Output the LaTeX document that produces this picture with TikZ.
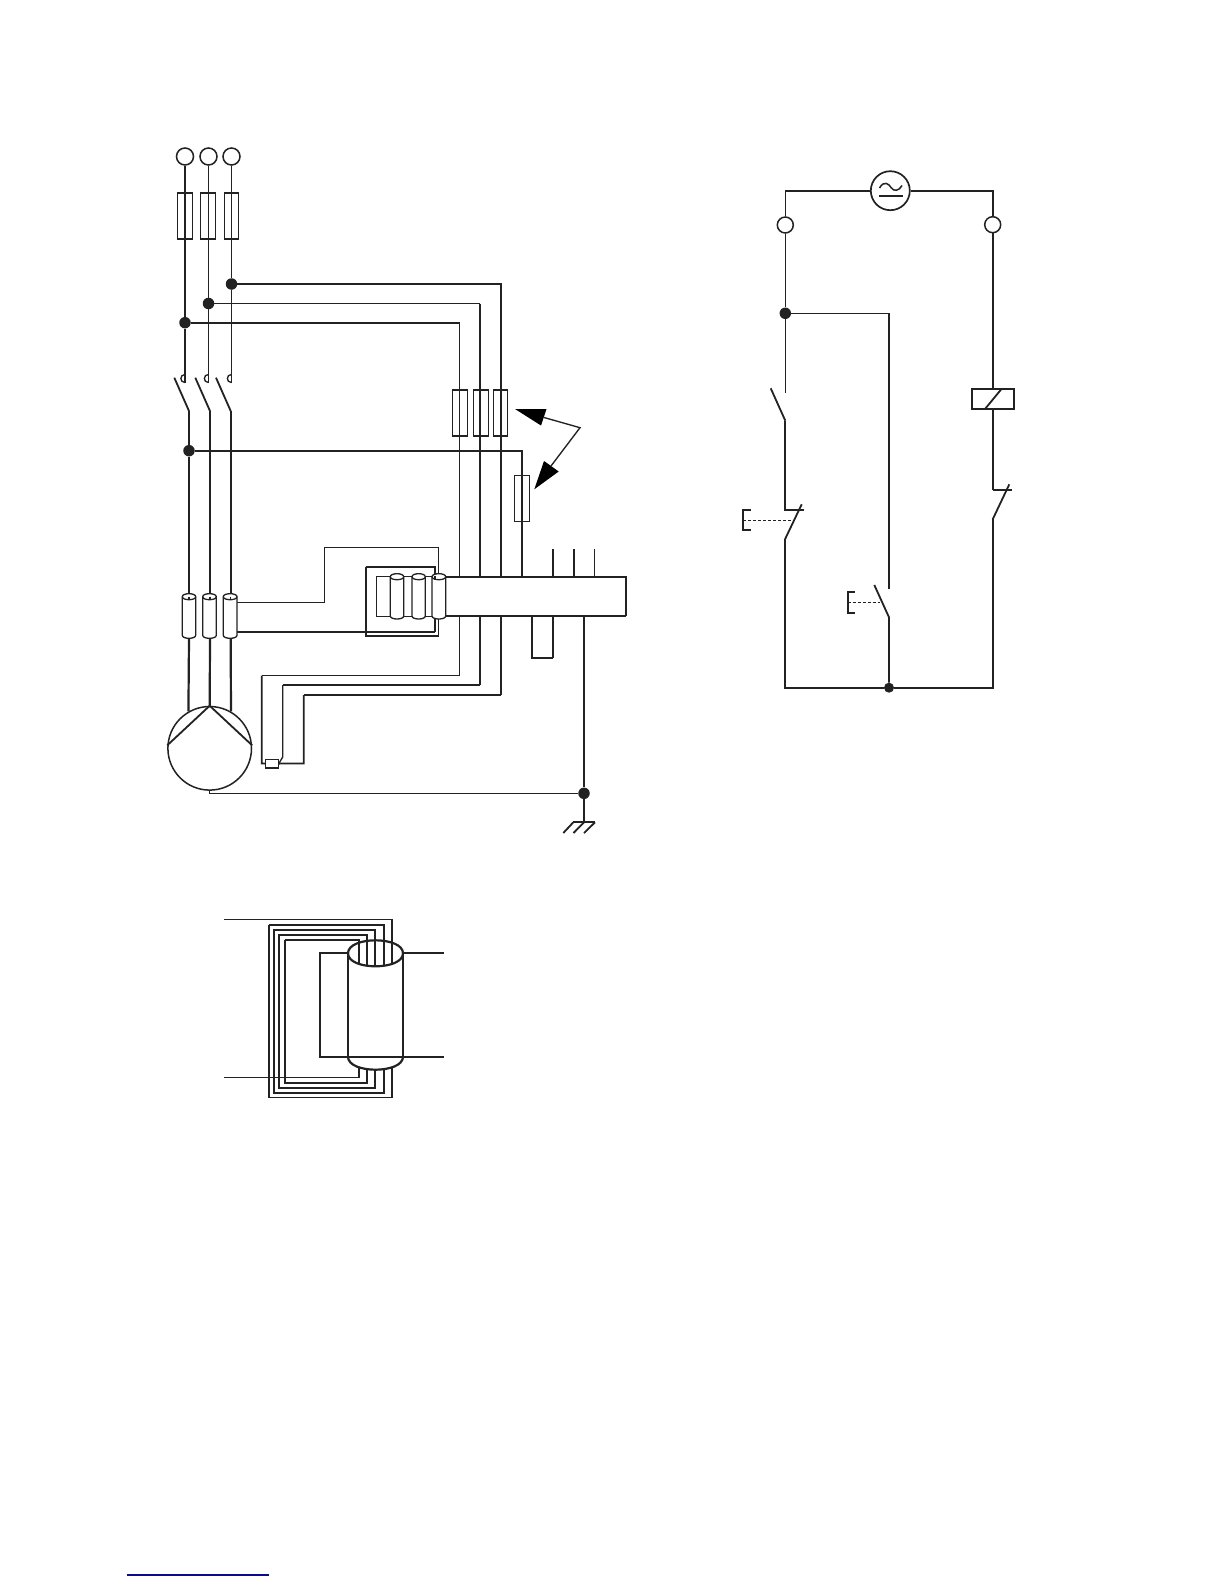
\documentclass[tikz,border=0pt]{standalone}
\usetikzlibrary{calc}
\definecolor{ink}{HTML}{222222}
\definecolor{linkblue}{HTML}{0A0A8C}
\tikzset{
  wirethin/.style={draw=ink,line width=1.35pt},
  wiremid/.style={draw=ink,line width=1.8pt},
  wirethick/.style={draw=ink,line width=2.2pt},
  terminal/.style={circle,draw=ink,fill=white,line width=1.5pt,minimum size=17pt,inner sep=0pt},
  junction/.style={circle,fill=ink,minimum size=11.5pt,inner sep=0pt},
  fusebox/.style={rectangle,draw=ink,line width=1.2pt,minimum width=15pt,minimum height=46pt,inner sep=0pt},
  tubeline/.style={draw=ink,line width=1.3pt},
}
% lower half of an ellipse, left to right: x-left, x-right, y, depth
\newcommand{\lowerarc}[4]{(#1,#3) .. controls (#1,#3+#4*1.333) and (#2,#3+#4*1.333) .. (#2,#3)}
\newcommand{\upperarc}[4]{(#1,#3) .. controls (#1,#3-#4*1.333) and (#2,#3-#4*1.333) .. (#2,#3)}
\newcommand{\smalltube}[4]{%
  \path[fill=white,tubeline] (#1,#3) .. controls (#1,#3-4) and (#2,#3-4) .. (#2,#3) -- (#2,#4)
     .. controls (#2,#4+4) and (#1,#4+4) .. (#1,#4) -- cycle;
  \draw[tubeline] \lowerarc{#1}{#2}{#3}{3};
}
\newcommand{\contact}[1]{\draw[wirethin] (#1,374.5) .. controls (#1-5.5,374.5) and (#1-5.5,382.5) .. (#1,382.5);}
\begin{document}
\begin{tikzpicture}[x=1pt,y=-1pt]
\useasboundingbox (0,0) rectangle (1224,1584);
\fill[white] (0,0) rectangle (1224,1584);

% ---------- three-phase supply
\node[terminal] (t1) at (185,156.5) {};
\node[terminal] (t2) at (208.5,156.5) {};
\node[terminal] (t3) at (231.5,156.5) {};
\node[junction] (j3) at (231.5,284) {};
\node[junction] (j2) at (208.5,303.5) {};
\node[junction] (j1) at (185,322.7) {};
\coordinate (c1) at (185,382.5);
\coordinate (c2) at (208.5,382.5);
\coordinate (c3) at (231.5,382.5);
\draw[wirethick] (t1) -- (j1) -- (c1);
\draw[wirethin] (t2) -- (j2) -- (c2);
\draw[wirethin] (t3) -- (j3) -- (c3);
\node[fusebox] at (185,216) {};
\node[fusebox] at (208,216) {};
\node[fusebox,minimum width=14.5pt] at (231.5,216) {};
\contact{185}\contact{208.5}\contact{231.5}

% ---------- main switch
\coordinate (b1a) at (174.3,377.7); \coordinate (b1b) at (189,411);
\coordinate (b2a) at (195.3,377.7); \coordinate (b2b) at (210,411);
\coordinate (b3a) at (216,377.7);   \coordinate (b3b) at (230.7,411);
\draw[wiremid] (b1a) -- (b1b);
\draw[wiremid] (b2a) -- (b2b);
\draw[wiremid] (b3a) -- (b3b);
\node[junction] (j4) at (189,450.7) {};
\coordinate (tt1) at (189,596.7);
\coordinate (tt2) at (210,596.7);
\coordinate (tt3) at (230.7,596.7);
\draw[wiremid] (b1b) -- (j4) -- (tt1);
\draw[wirethick] (b2b) -- (tt2);
\draw[wiremid] (b3b) -- (tt3);

% ---------- branches to the relay fuses
\coordinate (r1) at (459.7,322.7);
\coordinate (r2) at (480,303.5);
\coordinate (r3) at (501,284);
\coordinate (r4) at (522,450.7);
\coordinate (r1b) at (459.7,675.7);
\coordinate (r2b) at (480,685);
\coordinate (r3b) at (501,695);
\coordinate (p1) at (261.7,675.7);
\coordinate (p2) at (282.7,685);
\coordinate (p3) at (303.7,695);
\node[rectangle,draw=ink,fill=white,line width=1.2pt,minimum width=12.5pt,minimum height=8.7pt,inner sep=0pt] (sensor) at (272,763.6) {};
\draw[wiremid] (j1) -- (r1);
\draw[wirethin] (r1) -- (r1b);
\draw[wirethin] (j2) -- (r2);
\draw[wirethick] (r2) -- (r2b);
\draw[wirethick] (j3) -- (r3) -- (r3b);
\draw[wirethick] (j4) -- (r4) -- (522,580);
\draw[wirethin] (r1b) -- (p1);
\draw[wirethick] (r2b) -- (p2);
\draw[wirethick] (r3b) -- (p3);
\draw[wiremid] (p1) -- (261.7,763.4) -- (sensor.west);
\draw[wirethin] (p2) -- (282.7,757) -- (sensor.east);
\draw[wiremid] (p3) -- (303.7,763.4) -- (sensor.east);
\node[fusebox] at (460,413) {};
\node[fusebox] at (481,413) {};
\node[fusebox,minimum width=14.5pt] at (500.5,413) {};
\node[fusebox] (f4) at (521.8,498.3) {};

% ---------- call-out arrows
\coordinate (apex) at (580,427.7);
\coordinate (tipa) at (515,409);
\coordinate (tipb) at (534.3,489.3);
\draw[wirethin] (544,417.5) -- (apex) -- (551,466);
\fill[black] (tipa) -- (546.5,409) -- (541,425.5) -- cycle;
\fill[black] (tipb) -- (544,461) -- (558.7,471.5) -- cycle;

% ---------- wiring around the block
\coordinate (h1) at (237,602.3);
\coordinate (h2) at (324.3,602.3);
\coordinate (h3) at (324.3,547.3);
\coordinate (h4) at (438.7,547.3);
\coordinate (h5) at (438.7,636);
\coordinate (h6) at (365.7,636);
\coordinate (h7) at (365.7,567);
\coordinate (h8) at (435,567);
\coordinate (h9) at (435,632);
\coordinate (h10) at (237,632);
\draw[wirethin] (h1) -- (h2) -- (h3) -- (h4) -- (h5);
\draw[wiremid] (h5) -- (h6) -- (h7);
\draw[wirethin] (h7) -- (h8) -- (435,580);
\draw[wirethick] (h10) -- (h9);
\draw[wirethin] (h9) -- (435,618);

% stubs and terminals at the block
\coordinate (st1) at (553,549); \coordinate (st2) at (574,549); \coordinate (st3) at (594.7,549);
\draw[wirethick] (st1) -- (553,577);
\draw[wirethick] (st2) -- (574,577);
\draw[wirethin] (st3) -- (594.7,577);
\coordinate (u1) at (532,616); \coordinate (u2) at (532,658); \coordinate (u3) at (553,658); \coordinate (u4) at (553,616);
\draw[wirethin] (u1) -- (u2) -- (u3);
\draw[wiremid] (u3) -- (u4);

% block
\fill[white] (376.7,576.7) rectangle (626,616.3);
\draw[wirethin] (445.7,616.3) -- (376.7,616.3) -- (376.7,576.7) -- (445.7,576.7);
\draw[wirethick] (445.7,576.7) -- (626,576.7) -- (626,616.3);
\draw[wiremid] (626,616.3) -- (445.7,616.3);
\smalltube{390.3}{403.7}{576.7}{616}
\smalltube{412}{425.3}{576.7}{616}
\smalltube{432}{445.7}{576.7}{616}
\draw[wirethin] (435,576) -- (435,580);

% ---------- current transformers on the motor leads
\smalltube{182.3}{195.7}{596.7}{635.3}
\smalltube{202.7}{216.3}{596.7}{635.3}
\smalltube{223.3}{237}{596.7}{635.3}
\draw[wirethin] (tt1) -- (189,599.5);
\draw[wirethin] (tt2) -- (210,599.5);
\draw[wirethin] (tt3) -- (230.7,599.5);

% ---------- motor
\node[circle,draw=ink,line width=1.5pt,minimum size=83.6pt,inner sep=0pt] (motor) at (209.7,748.3) {};
\draw[wirethick] (189,638.3) -- (motor.120);
\draw[wirethick] (210,638.3) -- (motor.north);
\draw[wirethick] (230.7,638.3) -- (motor.60);
\draw[wiremid] (motor.176) -- (motor.north) -- (motor.4);

% ---------- earth
\node[junction] (je) at (584,793.3) {};
\coordinate (e0) at (584,822.3);
\draw[wirethick] (584,616.3) -- (je);
\draw[wiremid] (je) -- (e0);
\draw[wirethin,line width=1.5pt] (motor.south) -- (209.7,793.3) -- (je);
\draw[wiremid] (573.3,822.3) -- (595,822.3);
\draw[wiremid] (573.3,822.3) -- (563.3,833);
\draw[wiremid] (584,822.3) -- (573.5,833);
\draw[wiremid] (595,822.3) -- (584,833);

% ---------- coil around the toroid
\draw[wirethin,line width=1.5pt] (224.3,919.3) -- (392,919.3) -- (392,1097.3) -- (269,1097.3) -- (269,924.7);
\draw[wirethick] (269,924.7) -- (383.7,924.7) -- (383.7,1093) -- (274,1093) -- (274,929.7)
   -- (375,929.7) -- (375,1087.7) -- (279.3,1087.7) -- (279.3,935) -- (366.7,935) -- (366.7,1082.7)
   -- (284.7,1082.7) -- (284.7,940);
\draw[wirethin,line width=1.5pt] (284.7,940) -- (359,940) -- (359,1077.3) -- (224.3,1077.3);
\fill[white] \lowerarc{348}{403}{953.3}{13} -- (403,1056.7) .. controls (403,1074) and (348,1074) .. (348,1056.7) -- cycle;
\draw[wirethick] \upperarc{348}{403}{953.3}{13};
\draw[wirethick] \lowerarc{348}{403}{953.3}{13};
\draw[wiremid] (348,953.3) -- (348,1056.7);
\draw[wirethick] (403,953.3) -- (403,1056.7);
\draw[wirethick] \lowerarc{348}{403}{1056.7}{13};
\coordinate (ca) at (444,953.3);
\coordinate (cb) at (444,1056.7);
\draw[wirethick] (403,953.3) -- (ca);
\draw[wirethick] (348,953.3) -- (320.3,953.3) -- (320.3,1056.7) -- (cb);

% ---------- control circuit
\node[circle,draw=ink,line width=1.7pt,minimum size=39pt,inner sep=0pt] (src) at (890.3,190.7) {};
\node[terminal,minimum size=16pt] (ct1) at (785.3,225) {};
\node[terminal,minimum size=16pt] (ct2) at (992.7,224.7) {};
\node[junction] (cj1) at (785.3,313.3) {};
\node[junction,minimum size=10pt] (cj2) at (889,687.7) {};
\coordinate (ctl) at (785.3,190.7);
\coordinate (ctr) at (992.7,190.7);
\draw[wirethick] (src) -- (ctl);
\draw[wirethin,line width=1.5pt] (ctl) -- (ct1);
\draw[wirethick] (src) -- (ctr) -- (ct2);
\draw[draw=ink,line width=1.5pt] (879.5,188) .. controls (884,180) and (889,184) .. (891,187.5) .. controls (894,192) and (899,191) .. (902,185.5);
\draw[wiremid] (879.3,195.7) -- (903,195.7);
\draw[wirethin] (ct1) -- (cj1);
\coordinate (s1t) at (785.3,392.7);
\draw[wirethin] (cj1) -- (s1t);
\coordinate (s1a) at (770.7,388.3);
\coordinate (s1b) at (785.3,420.7);
\draw[wiremid] (s1a) -- (s1b);
\coordinate (s2t) at (785.3,510);
\draw[wiremid] (s1b) -- (s2t) -- (804.3,510);
\coordinate (s2a) at (801.7,504.3);
\coordinate (s2b) at (785,539.3);
\draw[wiremid] (s2a) -- (s2b);
\coordinate (bl) at (785,687.7);
\draw[wirethick] (s2b) -- (bl) -- (cj2);
% left push button
\draw[draw=ink,densely dashed,line width=1pt] (743.3,520.3) -- (794,520.3);
\draw[wiremid] (750.5,510.3) -- (743.3,510.3) -- (743.3,530) -- (750.5,530);
% centre branch
\coordinate (m0) at (889,313.3);
\coordinate (m1) at (889,589.3);
\draw[wirethin] (cj1) -- (m0);
\draw[wirethick] (m0) -- (m1);
\coordinate (m2a) at (874.3,585);
\coordinate (m2b) at (889,617.3);
\draw[wiremid] (m2a) -- (m2b) -- (cj2);
\draw[draw=ink,densely dashed,line width=1.4pt] (847.7,602.7) -- (880,602.7);
\draw[wiremid] (854.5,592.3) -- (847.7,592.3) -- (847.7,613) -- (854.5,613);
% right branch
\node[rectangle,draw=ink,line width=1.8pt,minimum width=42pt,minimum height=20.3pt,inner sep=0pt] (rel) at (993.3,398.8) {};
\draw[wiremid] (985,409) -- (1001.7,388.7);
\draw[wirethick] (ct2) -- (rel.north -| ct2);
\coordinate (k1) at (992.7,490);
\draw[wirethick] (rel.south -| ct2) -- (k1);
\draw[wiremid] (k1) -- (1012.3,490);
\coordinate (k2a) at (1009.3,484.3);
\coordinate (k2b) at (992.7,519.3);
\draw[wiremid] (k2a) -- (k2b);
\coordinate (br) at (992.7,687.7);
\draw[wirethick] (k2b) -- (br) -- (cj2);

% ---------- rule at the foot of the page
\coordinate (ua) at (127.3,1575);
\coordinate (ub) at (269,1575);
\draw[linkblue,line width=1.1pt] (ua) -- (ub);
\end{tikzpicture}
\end{document}
